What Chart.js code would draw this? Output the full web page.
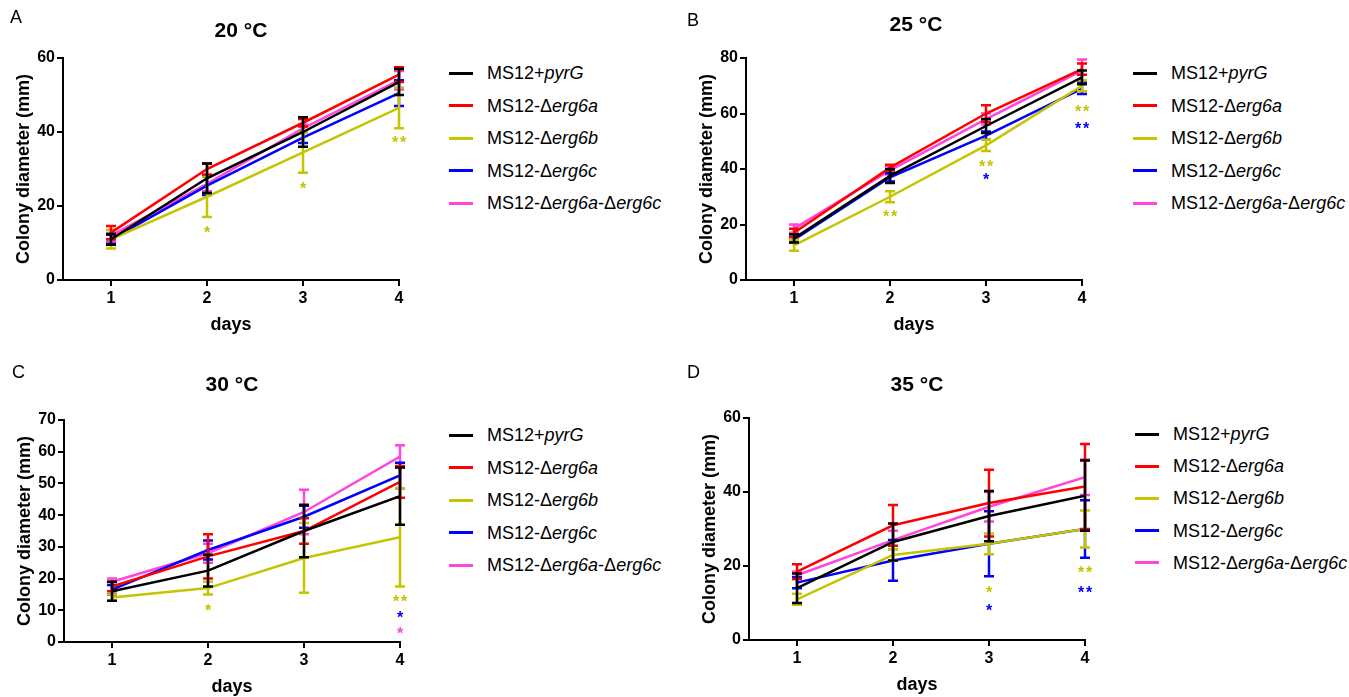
<!DOCTYPE html>
<html>
<head>
<meta charset="utf-8">
<script src="https://cdn.jsdelivr.net/npm/chart.js@4"></script>
<style>
  body { margin: 0; background: #fff; }
  #page { position: relative; width: 1349px; height: 697px; overflow: hidden; font-family: 'Liberation Sans', Arial, sans-serif; color: #000; }
  canvas { position: absolute; }
  .letter { position: absolute; font-size: 18px; line-height: 20px; }
  .title { position: absolute; font-size: 21px; font-weight: bold; line-height: 26px; transform: translateX(-50%); white-space: nowrap; }
  .leg-line { position: absolute; width: 24px; height: 3px; }
  .leg-text { position: absolute; font-size: 18px; line-height: 20px; white-space: nowrap; }
</style>
</head>
<body>
<div id="page">
  <canvas id="chartA" width="420" height="345" style="left:0px;top:0px"></canvas>
  <canvas id="chartB" width="420" height="345" style="left:683px;top:0px"></canvas>
  <canvas id="chartC" width="420" height="345" style="left:1px;top:362px"></canvas>
  <canvas id="chartD" width="420" height="345" style="left:686px;top:360px"></canvas>
</div>
<script>
// ── Data ─────────────────────────────────────────────────────────────────────
const days = [1, 2, 3, 4];
const strainLabels = [
  'MS12+<i>pyrG</i>',
  'MS12-Δ<i>erg6a</i>',
  'MS12-Δ<i>erg6b</i>',
  'MS12-Δ<i>erg6c</i>',
  'MS12-Δ<i>erg6a</i>-Δ<i>erg6c</i>'
];
const strainColors = ['#000000', '#ff0000', '#c4c400', '#0000ff', '#ff45dd'];

// 20 °C  (rows: pyrG, erg6a, erg6b, erg6c, erg6a-erg6c)
const meanA = [
  [11, 27.5, 40, 53.5],
  [12.8, 30, 42.5, 55.5],
  [11, 22.5, 34.5, 46.5],
  [11, 25.5, 38.5, 50.5],
  [12, 26, 41, 54]
];
const sdA = [
  [1.5, 4, 4, 3.5],
  [1.8, 1.5, 1, 2],
  [2.5, 5.5, 5.5, 5.5],
  [1.2, 2.5, 1.5, 3.5],
  [1.5, 2, 1, 2.5]
];
// significance marks: [day, y, text, strain index]
const starsA = [[2, 13.7, '*', 2], [3, 25.6, '*', 2], [4, 38, '**', 2]];

// 25 °C
const meanB = [
  [15, 37.5, 55.5, 73],
  [17, 40.5, 60, 76],
  [12.5, 30, 48.5, 70],
  [14.5, 37, 52, 69],
  [18.5, 39.5, 58, 75.5]
];
const sdB = [
  [1.5, 2.5, 2.5, 2.5],
  [1.5, 1, 3, 2],
  [2, 2, 2, 2],
  [1, 1.5, 1.5, 2],
  [1.5, 1.5, 2, 4]
];
const starsB = [[2, 24, '**', 2], [3, 42, '**', 2], [3, 37.4, '*', 3], [4, 62, '**', 2], [4, 55.8, '**', 3]];

// 30 °C
const meanC = [
  [16, 22.5, 35, 46],
  [17.5, 27, 35, 50.5],
  [14, 17, 26.5, 33],
  [16.5, 29, 39.5, 52.5],
  [19, 28, 41, 58.5]
];
const sdC = [
  [3, 5, 8.3, 9],
  [1.5, 7, 4, 5],
  [1, 2, 11, 15.5],
  [1.5, 3, 3.5, 4],
  [1, 3, 7, 3.5]
];
const starsC = [[2, 10.9, '*', 2], [4, 13.9, '**', 2], [4, 8.8, '*', 3], [4, 3.9, '*', 4]];

// 35 °C
const meanD = [
  [14, 26.5, 33.5, 39],
  [18.5, 31, 37, 41.5],
  [11, 23, 26, 30],
  [15.5, 21.5, 26, 30],
  [17.5, 27, 36, 44]
];
const sdD = [
  [4, 5, 6.8, 9.5],
  [2, 5.5, 9, 11.5],
  [1.5, 1.5, 2.8, 5],
  [1.5, 5.5, 8.8, 7.8],
  [1, 2.5, 4, 4.8]
];
const starsD = [[3, 13.9, '*', 2], [3, 9, '*', 3], [4, 19.3, '**', 2], [4, 13.7, '**', 3]];

// ── Helpers ──────────────────────────────────────────────────────────────────
const FONT = "'Liberation Sans', Arial, sans-serif";
const page = document.getElementById('page');

// error bars drawn right after each line so layering follows the datasets
const errorBars = {
  id: 'errorBars',
  afterDatasetDraw(chart, args) {
    const ds = chart.data.datasets[args.index];
    const xs = chart.scales.x, ys = chart.scales.y;
    const ctx = chart.ctx;
    ctx.save();
    ctx.strokeStyle = ds.borderColor;
    ctx.lineWidth = 2.5;
    ds.data.forEach((p, j) => {
      const e = ds.errors[j];
      const x = xs.getPixelForValue(p.x);
      const y1 = ys.getPixelForValue(p.y + e);
      const y2 = ys.getPixelForValue(p.y - e);
      ctx.beginPath();
      ctx.moveTo(x, y1); ctx.lineTo(x, y2);
      ctx.moveTo(x - 5, y1); ctx.lineTo(x + 5, y1);
      ctx.moveTo(x - 5, y2); ctx.lineTo(x + 5, y2);
      ctx.stroke();
    });
    ctx.restore();
  }
};

const starMarks = {
  id: 'starMarks',
  afterDatasetsDraw(chart, args, opts) {
    const xs = chart.scales.x, ys = chart.scales.y;
    const ctx = chart.ctx;
    ctx.save();
    ctx.font = 'bold 16px ' + FONT;
    ctx.textAlign = 'center';
    ctx.textBaseline = 'alphabetic';
    opts.marks.forEach(([d, v, txt, si]) => {
      const x = xs.getPixelForValue(d);
      const y = ys.getPixelForValue(v) + 9;
      ctx.fillStyle = strainColors[si];
      if (txt === '**') {
        ctx.fillText('*', x - 4, y);
        ctx.fillText('*', x + 4, y);
      } else {
        ctx.fillText('*', x, y);
      }
    });
    ctx.restore();
  }
};

function makeChart(id, means, sds, yMax, yStep, stars) {
  const ctx = document.getElementById(id).getContext('2d');
  return new Chart(ctx, {
    type: 'line',
    data: {
      datasets: strainLabels.map((lab, i) => ({
        label: lab,
        data: days.map((d, j) => ({ x: d, y: means[i][j] })),
        errors: sds[i],
        borderColor: strainColors[i],
        backgroundColor: strainColors[i],
        borderWidth: 2.5,
        pointRadius: 0,
        tension: 0,
        fill: false
      }))
    },
    options: {
      responsive: false,
      animation: false,
      devicePixelRatio: 1,
      layout: { padding: { top: 58, right: 21, left: 0, bottom: 0 } },
      plugins: {
        legend: { display: false },
        tooltip: { enabled: false },
        starMarks: { marks: stars }
      },
      scales: {
        x: {
          type: 'linear', min: 0.5, max: 4,
          afterBuildTicks: s => { s.ticks = days.map(v => ({ value: v })); },
          afterFit: s => { s.height = 65; },
          grid: { display: true, drawOnChartArea: false, drawTicks: true, tickLength: 6, color: '#000', lineWidth: 2 },
          border: { display: true, color: '#000', width: 2 },
          ticks: { color: '#000', padding: 3, maxRotation: 0, font: { family: FONT, size: 16, weight: 'bold' } },
          title: { display: true, text: 'days', color: '#000', padding: { top: 0, bottom: 9 },
                   font: { family: FONT, size: 18, weight: 'bold' } }
        },
        y: {
          min: 0, max: yMax,
          afterFit: s => { s.width = 63; },
          grid: { display: true, drawOnChartArea: false, drawTicks: true, tickLength: 6, color: '#000', lineWidth: 2 },
          border: { display: true, color: '#000', width: 2 },
          ticks: { stepSize: yStep, color: '#000', padding: 2, font: { family: FONT, size: 16, weight: 'bold' } },
          title: { display: true, text: 'Colony diameter (mm)', color: '#000', padding: { top: 13, bottom: 0 },
                   font: { family: FONT, size: 18, weight: 'bold' } }
        }
      }
    },
    plugins: [errorBars, starMarks]
  });
}

function addText(cls, html, left, top) {
  const el = document.createElement('div');
  el.className = cls;
  el.innerHTML = html;
  el.style.left = left + 'px';
  el.style.top = top + 'px';
  page.appendChild(el);
}

function addLegend(lineX, textX, y0, dy) {
  strainLabels.forEach((lab, i) => {
    const y = y0 + i * dy;
    const ln = document.createElement('div');
    ln.className = 'leg-line';
    ln.style.left = lineX + 'px';
    ln.style.top = (y - 1.5) + 'px';
    ln.style.background = strainColors[i];
    page.appendChild(ln);
    addText('leg-text', lab, textX, y - 10);
  });
}

// ── Panels ───────────────────────────────────────────────────────────────────
makeChart('chartA', meanA, sdA, 60, 20, starsA);
makeChart('chartB', meanB, sdB, 80, 20, starsB);
makeChart('chartC', meanC, sdC, 70, 10, starsC);
makeChart('chartD', meanD, sdD, 60, 20, starsD);

addText('letter', 'A', 10, 7);
addText('letter', 'B', 687, 10);
addText('letter', 'C', 12, 362);
addText('letter', 'D', 687, 362);

addText('title', '20 °C', 241, 17);
addText('title', '25 °C', 916, 11);
addText('title', '30 °C', 232, 371);
addText('title', '35 °C', 917, 371);

addLegend(449, 487, 73, 32.5);
addLegend(1133, 1171, 73, 32.5);
addLegend(449, 487, 435, 32.5);
addLegend(1135, 1173, 434, 32.2);
</script>
</body>
</html>
